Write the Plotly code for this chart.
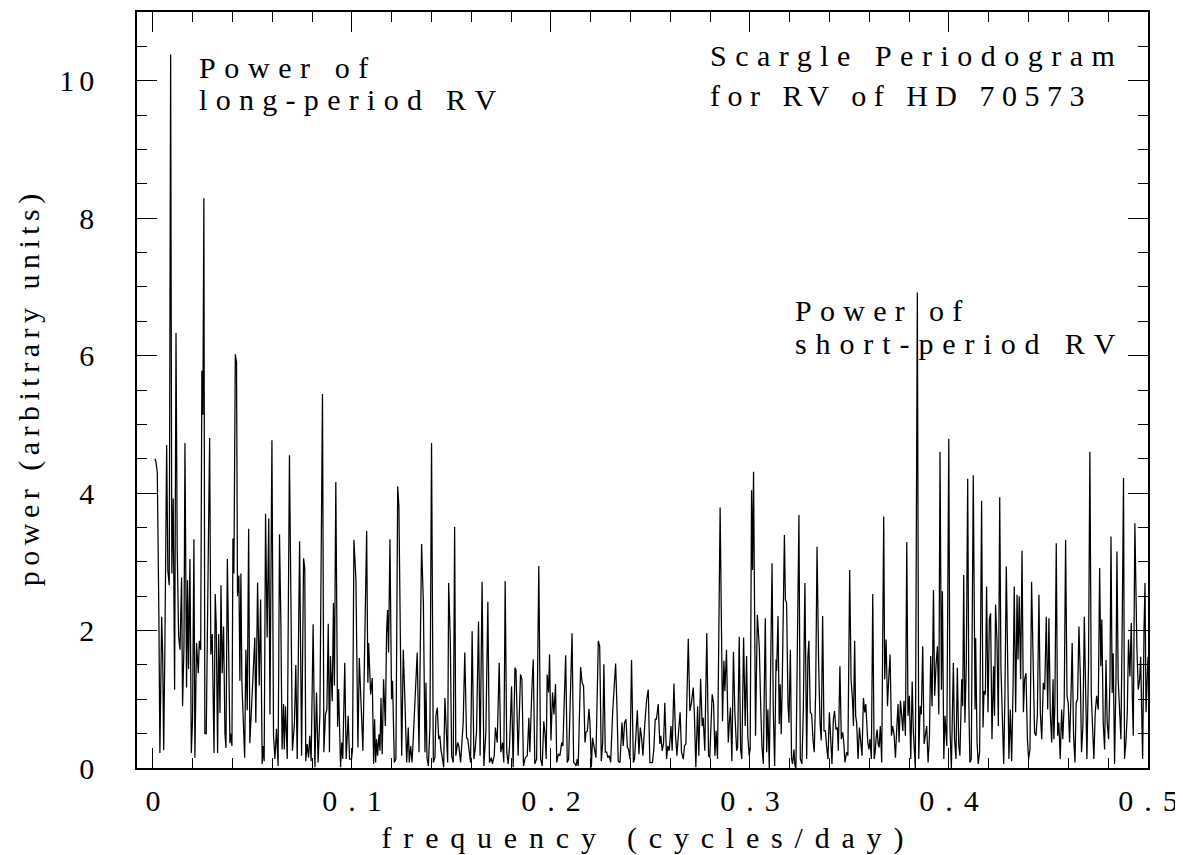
import plotly.graph_objects as go

# Frequencies (cycles/day) and power values of the periodogram
freq = [
    0.0010, 0.0015, 0.0022, 0.0027, 0.0030, 0.0035, 0.0044, 0.0049, 0.0054, 0.0060,
    0.0069, 0.0075, 0.0082, 0.0089, 0.0095, 0.0102, 0.0109, 0.0116, 0.0122, 0.0129,
    0.0136, 0.0144, 0.0149, 0.0156, 0.0161, 0.0169, 0.0174, 0.0179, 0.0186, 0.0193,
    0.0199, 0.0206, 0.0211, 0.0219, 0.0228, 0.0233, 0.0240, 0.0246, 0.0251, 0.0256,
    0.0261, 0.0268, 0.0275, 0.0280, 0.0285, 0.0291, 0.0298, 0.0307, 0.0313, 0.0318,
    0.0325, 0.0330, 0.0337, 0.0342, 0.0348, 0.0355, 0.0362, 0.0367, 0.0374, 0.0379,
    0.0387, 0.0390, 0.0397, 0.0402, 0.0407, 0.0414, 0.0420, 0.0425, 0.0432, 0.0437,
    0.0442, 0.0447, 0.0454, 0.0461, 0.0467, 0.0474, 0.0481, 0.0487,
    0.0512, 0.0517, 0.0526, 0.0534, 0.0541, 0.0549, 0.0554, 0.0559, 0.0566, 0.0574,
    0.0582, 0.0588, 0.0598, 0.0606, 0.0613, 0.0621, 0.0629, 0.0636, 0.0643, 0.0649,
    0.0656, 0.0660, 0.0666, 0.0675, 0.0686, 0.0693, 0.0701, 0.0711, 0.0718, 0.0725,
    0.0737, 0.0747, 0.0757, 0.0763, 0.0768, 0.0775, 0.0782, 0.0788, 0.0795, 0.0805,
    0.0814, 0.0822, 0.0830, 0.0839, 0.0852, 0.0859, 0.0867, 0.0874, 0.0881, 0.0887,
    0.0892, 0.0901, 0.0907, 0.0912, 0.0919, 0.0928, 0.0933, 0.0943, 0.0949, 0.0954,
    0.0964, 0.0971, 0.0981, 0.0988,
    0.0998, 0.1003, 0.1010, 0.1020, 0.1030, 0.1037, 0.1045, 0.1055, 0.1074, 0.1080,
    0.1084, 0.1094, 0.1102, 0.1109, 0.1114, 0.1119, 0.1124, 0.1129, 0.1136, 0.1141,
    0.1146, 0.1152, 0.1159, 0.1168, 0.1174, 0.1179, 0.1184, 0.1191, 0.1199, 0.1204,
    0.1213, 0.1221, 0.1230, 0.1236, 0.1250, 0.1258, 0.1266, 0.1275, 0.1283, 0.1288,
    0.1295, 0.1302, 0.1308, 0.1317, 0.1322, 0.1328, 0.1337, 0.1350, 0.1359, 0.1367,
    0.1372, 0.1377, 0.1384, 0.1392, 0.1400, 0.1409, 0.1417, 0.1422, 0.1429, 0.1436,
    0.1442, 0.1447, 0.1454, 0.1461, 0.1467, 0.1474, 0.1481, 0.1486, 0.1494, 0.1501,
    0.1509, 0.1516,
    0.1522, 0.1531, 0.1537, 0.1546, 0.1552, 0.1559, 0.1567, 0.1576, 0.1582, 0.1589,
    0.1596, 0.1604, 0.1613, 0.1619, 0.1626, 0.1636, 0.1644, 0.1654, 0.1663, 0.1673,
    0.1683, 0.1691, 0.1700, 0.1706, 0.1715, 0.1721, 0.1730, 0.1740, 0.1748, 0.1757,
    0.1763, 0.1770, 0.1778, 0.1785, 0.1792, 0.1802, 0.1810, 0.1819, 0.1824, 0.1835,
    0.1847, 0.1854, 0.1862, 0.1871, 0.1881, 0.1889, 0.1894, 0.1904, 0.1911, 0.1919,
    0.1928, 0.1939, 0.1948, 0.1956, 0.1964, 0.1971, 0.1976, 0.1981, 0.1988, 0.1993,
    0.2000,
    0.2008, 0.2015, 0.2023, 0.2029, 0.2037, 0.2045, 0.2054, 0.2060, 0.2074, 0.2082,
    0.2089, 0.2096, 0.2106, 0.2114, 0.2121, 0.2126, 0.2132, 0.2137, 0.2149, 0.2157,
    0.2164, 0.2171, 0.2176, 0.2183, 0.2191, 0.2196, 0.2203, 0.2209, 0.2214, 0.2219,
    0.2226, 0.2238, 0.2245, 0.2253, 0.2260, 0.2266, 0.2273, 0.2280, 0.2286, 0.2293,
    0.2300, 0.2310, 0.2325, 0.2332, 0.2338, 0.2347, 0.2357, 0.2363, 0.2370, 0.2377,
    0.2384, 0.2390, 0.2397, 0.2405, 0.2414, 0.2420, 0.2427, 0.2434, 0.2442, 0.2449,
    0.2456, 0.2462, 0.2472, 0.2481, 0.2489, 0.2497,
    0.2510, 0.2517, 0.2524, 0.2530, 0.2539, 0.2547, 0.2552, 0.2559, 0.2566, 0.2572,
    0.2581, 0.2587, 0.2594, 0.2603, 0.2609, 0.2618, 0.2626, 0.2633, 0.2641, 0.2649,
    0.2656, 0.2665, 0.2671, 0.2678, 0.2690, 0.2698, 0.2706, 0.2715, 0.2721, 0.2728,
    0.2737, 0.2743, 0.2752, 0.2760, 0.2765, 0.2773, 0.2783, 0.2792, 0.2798, 0.2810,
    0.2817, 0.2824, 0.2830, 0.2837, 0.2850, 0.2862, 0.2869, 0.2874, 0.2882, 0.2891,
    0.2896, 0.2902, 0.2909, 0.2917, 0.2924, 0.2933, 0.2938, 0.2946, 0.2953, 0.2959,
    0.2968, 0.2976, 0.2983, 0.2989, 0.2996, 0.3001, 0.3008, 0.3013, 0.3018,
    0.3028, 0.3037, 0.3047, 0.3054, 0.3060, 0.3067, 0.3077, 0.3084, 0.3090, 0.3097,
    0.3111, 0.3117, 0.3124, 0.3131, 0.3134, 0.3141, 0.3147, 0.3152, 0.3157, 0.3162,
    0.3173, 0.3178, 0.3184, 0.3191, 0.3196, 0.3203, 0.3209, 0.3214, 0.3221, 0.3226,
    0.3231, 0.3246, 0.3253, 0.3261, 0.3268, 0.3276, 0.3285, 0.3291, 0.3296, 0.3303,
    0.3310, 0.3317, 0.3323, 0.3330, 0.3337, 0.3345, 0.3352, 0.3358, 0.3365, 0.3372,
    0.3379, 0.3385, 0.3392, 0.3399, 0.3405, 0.3412, 0.3419, 0.3425, 0.3432, 0.3439,
    0.3444, 0.3452, 0.3459, 0.3466, 0.3472, 0.3477, 0.3486, 0.3492, 0.3501,
    0.3508, 0.3515, 0.3520, 0.3526, 0.3531, 0.3536, 0.3543, 0.3550, 0.3557, 0.3563,
    0.3570, 0.3577, 0.3582, 0.3587, 0.3592, 0.3598, 0.3603, 0.3610, 0.3617, 0.3624,
    0.3629, 0.3634, 0.3639, 0.3644, 0.3649, 0.3655, 0.3662, 0.3672, 0.3677, 0.3684,
    0.3691, 0.3697, 0.3704, 0.3711, 0.3717, 0.3724, 0.3731, 0.3737, 0.3744, 0.3749,
    0.3756, 0.3763, 0.3768, 0.3774, 0.3781, 0.3788, 0.3794, 0.3801, 0.3808, 0.3815,
    0.3821, 0.3831, 0.3841, 0.3848, 0.3855, 0.3861, 0.3868, 0.3875, 0.3882, 0.3888,
    0.3895, 0.3902, 0.3908, 0.3915, 0.3922, 0.3928, 0.3935, 0.3942, 0.3949, 0.3955,
    0.3962, 0.3967, 0.3974, 0.3980, 0.3989, 0.3999, 0.4005, 0.4012,
    0.4022, 0.4028, 0.4035, 0.4042, 0.4049, 0.4055, 0.4064, 0.4069, 0.4074, 0.4080,
    0.4087, 0.4094, 0.4100, 0.4105, 0.4112, 0.4122, 0.4131, 0.4134, 0.4141, 0.4147,
    0.4154, 0.4164, 0.4171, 0.4176, 0.4183, 0.4189, 0.4196, 0.4203, 0.4209, 0.4216,
    0.4224, 0.4229, 0.4234, 0.4241, 0.4248, 0.4255, 0.4261, 0.4268, 0.4275, 0.4281,
    0.4288, 0.4295, 0.4301, 0.4308, 0.4315, 0.4322, 0.4328, 0.4335, 0.4342, 0.4347,
    0.4353, 0.4360, 0.4367, 0.4374, 0.4380, 0.4387, 0.4394, 0.4400, 0.4407, 0.4415,
    0.4424, 0.4430, 0.4437, 0.4444, 0.4452, 0.4459, 0.4466, 0.4474, 0.4481, 0.4489,
    0.4496, 0.4502, 0.4509, 0.4516, 0.4523,
    0.4527, 0.4532, 0.4539, 0.4546, 0.4552, 0.4559, 0.4566, 0.4572, 0.4579, 0.4586,
    0.4593, 0.4599, 0.4606, 0.4613, 0.4619, 0.4626, 0.4633, 0.4639, 0.4646, 0.4653,
    0.4660, 0.4666, 0.4673, 0.4680, 0.4686, 0.4693, 0.4701, 0.4708, 0.4715, 0.4722,
    0.4728, 0.4735, 0.4742, 0.4750, 0.4757, 0.4763, 0.4768, 0.4775, 0.4782, 0.4789,
    0.4795, 0.4802, 0.4809, 0.4814, 0.4820, 0.4825, 0.4832, 0.4839, 0.4844, 0.4850,
    0.4857, 0.4864, 0.4871, 0.4877, 0.4882, 0.4889, 0.4896, 0.4902, 0.4909, 0.4916,
    0.4921, 0.4926, 0.4934, 0.4939, 0.4944, 0.4951, 0.4958, 0.4963, 0.4968, 0.4973,
    0.4980, 0.4985, 0.4990, 0.4995, 0.5000,
]

power = [
    4.50, 4.46, 4.30, 3.24, 2.20, 0.22, 2.20, 1.65, 0.26, 1.72,
    4.70, 2.87, 2.66, 10.38, 2.83, 3.92, 1.14, 6.33, 3.20, 1.92,
    1.72, 2.77, 0.90, 1.78, 4.73, 1.17, 2.73, 1.44, 3.04, 0.22,
    0.70, 3.33, 0.15, 1.82, 1.38, 1.85, 1.72, 5.78, 5.14, 8.29,
    0.50, 0.50, 3.04, 3.60, 4.80, 1.65, 1.95, 0.22, 2.53, 2.10,
    0.22, 1.95, 0.80, 2.66, 1.38, 2.06, 0.50, 0.29, 3.04, 1.98,
    0.36, 0.50, 0.32, 3.34, 2.83, 6.02, 5.90, 2.50, 2.80, 1.27,
    2.83, 1.24, 0.50, 0.15, 1.72, 0.84, 3.48, 0.36,
    1.90, 0.66, 2.70, 1.20, 2.45, 0.06, 0.32, 0.10, 3.70, 1.90,
    3.63, 0.78, 4.77, 0.47, 0.13, 0.57, 0.03, 3.40, 2.10, 0.27,
    0.93, 0.27, 0.90, 0.13, 4.55, 2.00, 0.25, 0.64, 1.50, 0.13,
    3.30, 0.18, 3.05, 2.90, 0.10, 0.35, 0.15, 0.47, 0.10, 2.09,
    0.01, 1.10, 0.08, 0.78, 5.44, 0.23, 0.78, 0.85, 2.10, 0.23,
    1.63, 0.97, 2.40, 1.20, 4.16, 0.60, 1.15, 0.01, 0.37, 0.13,
    1.53, 0.13, 0.76, 0.13,
    0.13, 0.27, 3.32, 2.74, 0.30, 1.60, 1.00, 0.25, 3.45, 1.24,
    1.82, 1.07, 1.31, 0.06, 0.71, 0.08, 0.42, 0.18, 0.49, 0.25,
    1.02, 0.20, 1.29, 0.61, 1.97, 2.30, 1.68, 3.33, 1.00, 1.27,
    0.08, 0.13, 4.10, 3.80, 0.18, 1.72, 1.00, 0.08, 0.59, 0.08,
    0.32, 0.08, 0.42, 1.10, 1.39, 1.68, 0.23, 3.26, 2.40, 0.23,
    1.24, 0.15, 0.03, 0.61, 4.73, 0.08, 0.15, 0.76, 0.88, 0.42,
    0.47, 0.27, 0.15, 0.01, 1.02, 0.52, 0.08, 2.69, 1.90, 0.18,
    0.08, 3.51,
    0.18, 0.37, 0.32, 0.08, 0.37, 0.66, 1.68, 0.44, 0.42, 0.27,
    0.08, 1.99, 0.13, 0.27, 0.52, 2.13, 0.18, 2.71, 0.03, 0.52,
    2.42, 0.08, 0.15, 0.06, 0.18, 0.59, 0.37, 1.53, 0.23, 0.37,
    0.08, 2.72, 0.23, 0.06, 0.32, 1.19, 0.01, 1.46, 1.43, 0.18,
    1.36, 1.29, 0.03, 0.15, 0.18, 0.73, 0.23, 1.14, 1.58, 0.06,
    0.13, 2.94, 0.13, 0.03, 0.68, 0.47, 0.13, 1.36, 1.10, 1.65,
    0.40,
    1.10, 0.78, 1.22, 0.08, 0.20, 0.18, 0.37, 0.32, 1.64, 0.08,
    0.13, 0.81, 1.96, 0.08, 0.06, 0.03, 0.13, 0.03, 1.47, 1.24,
    1.19, 0.37, 0.52, 0.54, 0.86, 0.66, 0.01, 0.44, 0.37, 0.27,
    0.15, 1.85, 1.77, 0.10, 0.37, 1.51, 0.23, 0.23, 0.15, 0.18,
    0.08, 0.81, 1.52, 0.86, 0.10, 0.08, 0.66, 0.32, 0.66, 0.71,
    0.30, 0.27, 0.13, 1.57, 0.08, 0.13, 0.52, 0.84, 0.20, 0.59,
    0.42, 0.18, 0.66, 1.00, 1.14, 0.08,
    0.08, 0.27, 0.71, 0.71, 0.93, 0.35, 0.47, 0.25, 0.37, 0.95,
    0.13, 0.32, 0.25, 0.61, 0.25, 1.23, 0.47, 0.18, 0.52, 0.81,
    0.23, 0.13, 0.32, 0.35, 1.88, 0.83, 0.95, 1.17, 0.76, 0.01,
    0.90, 0.18, 1.30, 0.61, 0.73, 0.25, 1.96, 0.18, 0.15, 1.07,
    0.95, 0.18, 0.54, 0.13, 3.79, 0.68, 1.56, 1.12, 1.72, 0.37,
    0.64, 0.88, 0.10, 1.69, 0.81, 0.25, 0.30, 1.91, 0.27, 0.13,
    1.90, 0.61, 1.63, 0.47, 0.18, 0.27, 4.04, 2.88, 4.31,
    0.47, 2.23, 1.75, 0.88, 0.32, 0.06, 2.18, 0.23, 0.85, 0.00,
    2.98, 0.85, 0.03, 1.58, 1.41, 2.21, 0.64, 1.22, 0.49, 1.19,
    3.39, 2.45, 2.40, 0.93, 0.66, 1.72, 0.13, 0.06, 0.27, 0.03,
    0.00, 3.68, 0.13, 0.06, 0.81, 2.69, 0.13, 1.62, 1.85, 0.81,
    0.78, 0.40, 0.23, 1.09, 3.22, 1.53, 0.66, 0.40, 2.21, 0.54,
    0.54, 0.32, 0.13, 0.81, 0.42, 0.06, 0.71, 0.83, 0.56, 0.59,
    0.25, 1.48, 0.42, 0.52, 0.35, 0.08, 0.23, 0.18, 2.88,
    1.29, 1.00, 0.61, 1.85, 0.76, 0.66, 0.13, 0.59, 0.37, 0.18,
    1.02, 0.81, 0.93, 0.54, 0.37, 0.27, 0.42, 0.13, 2.53, 0.13,
    0.23, 0.44, 0.56, 0.35, 0.30, 0.61, 0.08, 3.66, 1.29, 1.87,
    0.90, 1.29, 1.65, 0.47, 0.61, 0.49, 0.15, 0.54, 0.93, 0.37,
    0.98, 0.73, 0.54, 0.98, 0.47, 3.29, 0.76, 1.05, 0.13, 1.26,
    0.52, 0.00, 6.92, 0.13, 0.90, 0.78, 1.77, 0.35, 0.52, 0.61,
    0.08, 0.47, 1.63, 0.90, 2.59, 1.05, 1.50, 1.77, 0.78, 4.60,
    1.14, 2.57, 0.13, 0.76, 0.32, 4.79, 0.56, 0.00,
    1.53, 0.42, 0.13, 1.46, 0.32, 0.18, 1.29, 0.90, 2.81, 0.66,
    1.50, 4.21, 0.90, 0.08, 0.13, 4.26, 0.85, 1.89, 0.37, 0.06,
    0.23, 3.89, 0.59, 1.12, 1.07, 2.64, 0.81, 2.16, 2.25, 0.42,
    1.48, 0.76, 2.38, 1.87, 0.61, 3.94, 1.46, 0.85, 0.06, 1.04,
    2.93, 1.53, 0.13, 0.85, 0.10, 1.18, 2.64, 0.81, 2.52, 1.58,
    2.50, 1.29, 3.16, 0.81, 1.29, 1.38, 0.42, 0.13, 0.27, 2.71,
    1.14, 0.52, 0.47, 0.76, 2.52, 0.81, 0.42, 1.24, 1.14, 2.20,
    0.85, 2.18, 0.81, 0.37, 1.29,
    0.42, 0.90, 3.27, 0.47, 0.66, 0.13, 0.85, 0.42, 0.95, 3.32,
    1.05, 0.95, 0.37, 1.05, 1.82, 0.47, 0.08, 0.95, 1.00, 2.06,
    1.33, 0.23, 0.61, 2.20, 1.05, 0.13, 1.48, 4.60, 1.07, 0.37,
    0.13, 0.81, 1.05, 0.85, 2.91, 1.48, 2.16, 0.66, 0.27, 1.57,
    0.66, 0.42, 1.29, 3.37, 1.09, 1.67, 0.06, 1.29, 3.15, 1.29,
    0.76, 0.42, 2.26, 4.22, 0.13, 0.37, 0.81, 1.87, 1.33, 2.11,
    1.05, 0.47, 3.56, 2.55, 1.77, 1.14, 1.29, 1.62, 0.76, 0.13,
    2.02, 2.69, 0.81, 1.29, 1.62,
]

x_tick_values = [0, 0.1, 0.2, 0.3, 0.4, 0.5]
x_tick_labels = ["0", "0.1", "0.2", "0.3", "0.4", "0.5"]
y_tick_values = [0, 2, 4, 6, 8, 10]
y_tick_labels = ["0", "2", "4", "6", "8", "10"]

FONT = "Liberation Serif"
FS = 30


def spaced(s, ls):
    # letter spacing (not after the last glyph) mimics the wide stroke font of the original
    if len(s) < 2:
        return s
    return '<span style="letter-spacing:%.1fpx">%s</span>%s' % (ls, s[:-1], s[-1])


fig = go.Figure()
fig.add_trace(go.Scatter(
    x=freq, y=power, mode="lines",
    line=dict(color="black", width=1.25),
    hoverinfo="skip", showlegend=False,
))

axis_common = dict(
    showgrid=False, zeroline=False,
    showline=True, linecolor="black", linewidth=1.5,
    mirror="ticks", ticks="inside", tickcolor="black", tickwidth=1.2,
    ticklen=20, ticklabeloverflow="allow",
    tickfont=dict(family=FONT, size=FS, color="black"),
)

fig.update_xaxes(
    range=[-0.008, 0.5], tickmode="array",
    tickvals=x_tick_values, ticktext=[spaced(t, 11) for t in x_tick_labels],
    minor=dict(dtick=0.02, ticklen=10, ticks="inside", tickcolor="black", tickwidth=1.2),
    title=dict(text=spaced("frequency (cycles/day)", 11.8),
               font=dict(family=FONT, size=FS, color="black"), standoff=15),
    ticklabelstandoff=5,
    **axis_common,
)
fig.update_yaxes(
    range=[0, 11], tickmode="array",
    tickvals=y_tick_values, ticktext=[spaced(t, 5) for t in y_tick_labels],
    minor=dict(dtick=0.5, ticklen=10, ticks="inside", tickcolor="black", tickwidth=1.2),
    title=dict(text=spaced("power (arbitrary units)", 5.5),
               font=dict(family=FONT, size=FS, color="black"), standoff=11),
    ticklabelstandoff=35,
    **axis_common,
)

annots = [
    ("Power of", 0.0221, 10.19, 8.6),
    ("long-period RV", 0.0221, 9.72, 8.3),
    ("Scargle Periodogram", 0.2789, 10.37, 8.5),
    ("for RV of HD 70573", 0.2789, 9.79, 7.5),
    ("Power of", 0.3216, 6.65, 8.3),
    ("short-period RV", 0.3216, 6.17, 8.9),
]
for txt, ax_, ay_, ls in annots:
    fig.add_annotation(
        x=ax_, y=ay_, xref="x", yref="y", text=spaced(txt, ls), showarrow=False,
        xanchor="left", yanchor="middle",
        font=dict(family=FONT, size=FS, color="black"),
    )

# the page adds an 8 px body margin, so the figure is sized and padded for it
fig.update_layout(
    width=1175, height=847,
    margin=dict(l=129, r=35, t=2, b=86),
    paper_bgcolor="white", plot_bgcolor="white",
)

fig.write_html("out.html")
